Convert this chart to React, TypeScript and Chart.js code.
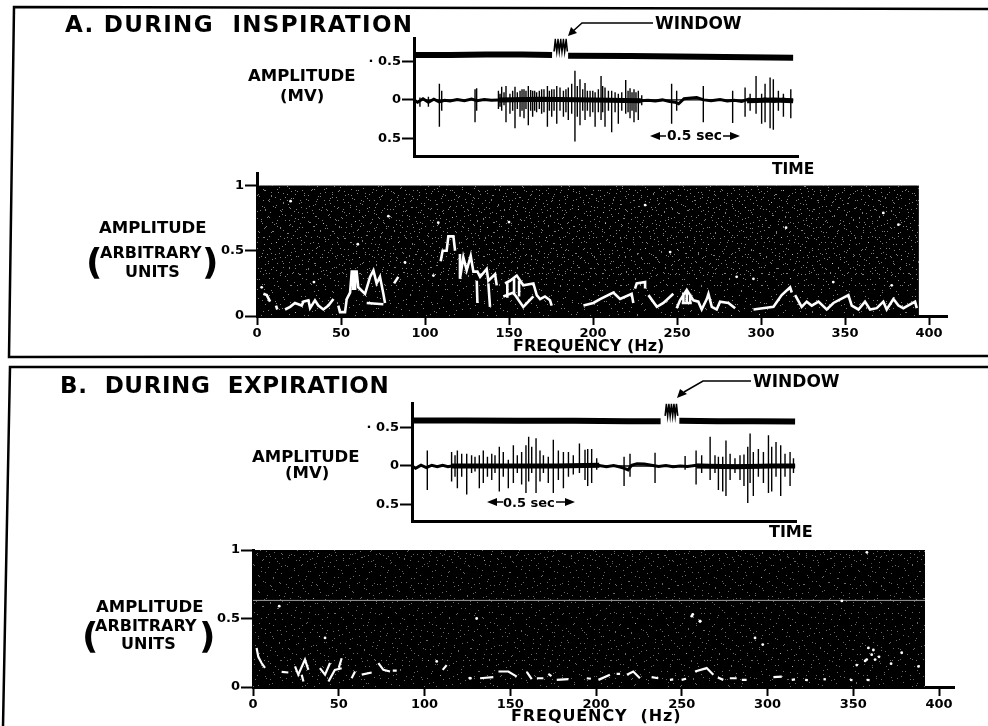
import React, { useEffect, useRef } from "react";
import { Chart, registerables } from "chart.js";
Chart.register(...registerables);

const FONT = "'DejaVu Sans', Verdana, sans-serif";

// ---------- panel A, EMG trace (time in s, amplitude in mV)
const traceYTicks = [-0.5, 0, 0.5];
const traceYLabels = ["0.5", "0", "· 0.5"];
const aMarkT = [0, 0.2, 0.4, 0.6, 0.767, null, 0.856, 1.2, 1.6, 2.106];
const aMarkV = [0.585, 0.585, 0.59, 0.59, 0.585, null, 0.575, 0.57, 0.56, 0.55];
const aWindowT = [0.778, 0.785, 0.793, 0.8, 0.807, 0.815, 0.822, 0.83, 0.837, 0.845, 0.852];
const aWindowV = [0.63, 0.78, 0.63, 0.78, 0.63, 0.78, 0.63, 0.78, 0.63, 0.78, 0.63];
const aBaseT = [0,0.02,0.05,0.08,0.11,0.14,0.17,0.2,0.24,0.28,0.32,0.35,0.39,0.43,0.47,0.6,0.8,1.0,1.26,1.3,1.34,1.38,1.42,1.45,1.47,1.5,1.54,1.57,1.61,1.65,1.7,1.74,1.78,1.82,1.86,1.9,1.95,2.0,2.05,2.106];
const aBaseV = [0,-0.03,0.015,-0.03,0.01,-0.025,-0.005,-0.015,0.005,-0.01,0.01,-0.01,0.005,-0.005,0,0,0,0,-0.01,-0.005,-0.015,0,-0.02,-0.03,-0.05,0.015,0.025,0.03,0,-0.01,0.005,-0.015,-0.005,-0.02,0.01,-0.02,0.015,-0.02,0.01,-0.015];
const aBurstT = [0.47, 0.7, 1.0, 1.26, null, 1.85, 2.0, 2.106];
const aBurstV = [0, 0.01, 0, -0.01, null, -0.01, 0, -0.01];
const aSpikeT = [0.033,0.08,0.141,0.154,0.339,0.348,0.469,0.478,0.487,0.5,0.511,0.533,0.548,0.561,0.574,0.589,0.6,0.611,0.622,0.635,0.648,0.659,0.67,0.681,0.696,0.709,0.722,0.741,0.752,0.765,0.778,0.793,0.811,0.83,0.844,0.857,0.876,0.894,0.907,0.922,0.937,0.95,0.963,0.978,0.993,1.006,1.024,1.039,1.048,1.061,1.08,1.098,1.117,1.135,1.154,1.176,1.189,1.2,1.211,1.222,1.233,1.246,1.265,1.431,1.459,1.607,1.77,1.839,1.867,1.9,1.931,1.95,1.978,1.996,2.024,2.052,2.093];
const aSpikeUp = [0.03,0.04,0.21,0.12,0.14,0.15,0.12,0.08,0.17,0.1,0.18,0.08,0.12,0.17,0.1,0.12,0.14,0.14,0.12,0.18,0.13,0.12,0.12,0.1,0.12,0.14,0.14,0.18,0.12,0.14,0.14,0.18,0.16,0.12,0.14,0.16,0.21,0.38,0.18,0.27,0.14,0.22,0.12,0.12,0.12,0.1,0.14,0.31,0.18,0.16,0.12,0.12,0.1,0.08,0.1,0.26,0.12,0.15,0.1,0.14,0.1,0.12,0.06,0.21,0.12,0.18,0.12,0.16,0.08,0.31,0.08,0.21,0.29,0.27,0.12,0.08,0.14];
const aSpikeDown = [-0.09,-0.09,-0.35,-0.14,-0.29,-0.14,-0.12,-0.09,-0.14,-0.07,-0.29,-0.18,-0.14,-0.37,-0.12,-0.22,-0.14,-0.24,-0.12,-0.33,-0.14,-0.22,-0.14,-0.16,-0.12,-0.18,-0.16,-0.35,-0.14,-0.22,-0.14,-0.31,-0.14,-0.22,-0.16,-0.26,-0.18,-0.54,-0.22,-0.33,-0.14,-0.26,-0.14,-0.22,-0.16,-0.35,-0.16,-0.26,-0.16,-0.35,-0.14,-0.42,-0.16,-0.31,-0.14,-0.18,-0.16,-0.24,-0.14,-0.29,-0.16,-0.26,-0.07,-0.31,-0.14,-0.29,-0.3,-0.22,-0.14,-0.18,-0.31,-0.29,-0.37,-0.39,-0.14,-0.22,-0.24];

// ---------- panel B, EMG trace
const bMarkT = [0, 0.3, 0.6, 0.9, 1.2, 1.381, null, 1.485, 1.7, 1.9, 2.128];
const bMarkV = [0.59, 0.59, 0.585, 0.585, 0.58, 0.58, null, 0.585, 0.58, 0.58, 0.575];
const bWindowT = [1.406, 1.413, 1.42, 1.427, 1.434, 1.441, 1.448, 1.455, 1.462, 1.469, 1.476];
const bWindowV = [0.65, 0.8, 0.65, 0.8, 0.65, 0.8, 0.65, 0.8, 0.65, 0.8, 0.65];
const bBaseT = [0,0.02,0.05,0.08,0.11,0.14,0.17,0.2,0.22,0.5,0.8,1.04,1.08,1.12,1.15,1.18,1.2,1.22,1.25,1.29,1.33,1.37,1.41,1.45,1.49,1.53,1.58,1.8,2.128];
const bBaseV = [0,-0.03,0.01,-0.02,0.01,-0.01,0.01,-0.01,0,0,0,0.005,-0.01,0.005,-0.01,-0.03,-0.05,0.01,0.03,0.025,0.01,-0.005,0.005,-0.01,0,-0.005,0.01,0,0];
const bBurstT = [0.22, 0.5, 0.8, 1.04, null, 1.58, 1.8, 2.0, 2.128];
const bBurstV = [0, 0, 0, 0.01, null, 0, -0.01, 0, 0];
const bSpikeT = [0.085,0.22,0.239,0.252,0.276,0.304,0.331,0.35,0.374,0.396,0.419,0.443,0.461,0.485,0.507,0.535,0.563,0.585,0.609,0.633,0.648,0.665,0.689,0.711,0.73,0.757,0.785,0.813,0.841,0.869,0.896,0.93,0.961,0.976,0.998,1.026,1.178,1.211,1.35,1.517,1.578,1.609,1.656,1.683,1.702,1.726,1.744,1.767,1.794,1.822,1.844,1.865,1.878,1.896,1.924,1.952,1.98,1.998,2.022,2.048,2.072,2.1,2.119];
const bSpikeUp = [0.2,0.18,0.14,0.2,0.16,0.16,0.14,0.12,0.14,0.2,0.12,0.16,0.14,0.25,0.18,0.08,0.27,0.14,0.18,0.27,0.38,0.25,0.36,0.2,0.14,0.12,0.34,0.2,0.18,0.18,0.14,0.29,0.21,0.22,0.22,0.1,0.12,0.16,0.17,0.13,0.2,0.14,0.38,0.14,0.12,0.12,0.33,0.16,0.1,0.14,0.15,0.25,0.42,0.18,0.22,0.18,0.4,0.25,0.31,0.27,0.16,0.18,0.1];
const bSpikeDown = [-0.31,-0.2,-0.14,-0.29,-0.14,-0.37,-0.09,-0.07,-0.29,-0.22,-0.14,-0.18,-0.09,-0.33,-0.14,-0.29,-0.22,-0.09,-0.24,-0.35,-0.2,-0.09,-0.35,-0.2,-0.09,-0.22,-0.35,-0.18,-0.29,-0.14,-0.11,-0.09,-0.18,-0.26,-0.22,-0.05,-0.26,-0.14,-0.22,-0.05,-0.24,-0.09,-0.18,-0.09,-0.31,-0.33,-0.39,-0.18,-0.09,-0.18,-0.26,-0.48,-0.22,-0.39,-0.14,-0.22,-0.35,-0.33,-0.14,-0.39,-0.14,-0.26,-0.09];

// ---------- spectra (frequency in Hz, amplitude in arbitrary units)
const freqTicks = [0, 50, 100, 150, 200, 250, 300, 350, 400];
const ampTicks = [0, 0.5, 1];
const aHz = [3.8,5.8,7.8,null,11.3,12.1,null,16.7,19.7,22.6,26.6,27.6,30.6,31.6,34.5,36.5,39.5,42.5,45.5,null,48.4,49.4,52.4,53.4,55.4,56.4,59.3,60.3,64.3,67.3,69.3,71.2,73.2,75.2,76.2,null,65.3,75.2,null,81.6,84.1,null,109.3,110.5,112.9,113.9,116.9,117.9,null,120.8,120.8,122.8,124.8,127.2,128.8,131.2,132.8,136.7,137.7,141.7,142.7,null,130.8,131.2,null,137.7,138.7,null,147.6,150.6,154.6,158.5,164.5,166.5,168.5,171.4,174.4,175.4,null,146.6,152.6,158.5,164.5,null,194.3,200.2,204.2,212.1,216.1,223,224,null,225,226,231,231,null,233,238,241.9,247.8,null,249.8,251.8,255.8,259.8,262.7,264.7,267.7,268.7,270.7,273.6,275.6,280.6,284.6,null,295.5,307.4,312.3,317.3,318.3,null,320.3,324.2,327.2,330.2,334.2,339.1,343.1,352,354,358,361.9,364.9,368.9,372.8,374.8,378.8,381.8,384.7,391.7,392.7,null,252.8,258.8,null,57.3,57.3,null,58.4,58.4,null,253.8,253.8,null,255.8,255.8,null,257.8,257.8,null,149,149,null,153,153,null,156,156];
const aAmp = [0.17,0.16,0.11,null,0.08,0.05,null,0.05,0.07,0.1,0.08,0.11,0.12,0.06,0.12,0.08,0.05,0.08,0.13,null,0.08,0.03,0.03,0.13,0.18,0.34,0.34,0.22,0.17,0.3,0.35,0.25,0.3,0.17,0.1,null,0.1,0.09,null,0.25,0.3,null,0.42,0.5,0.5,0.61,0.61,0.5,null,0.475,0.285,0.45,0.35,0.46,0.34,0.34,0.3,0.36,0.27,0.32,0.235,null,0.27,0.1,null,0.25,0.07,null,0.25,0.27,0.31,0.235,0.25,0.16,0.13,0.15,0.12,0.08,null,0.15,0.18,0.07,0.15,null,0.08,0.1,0.13,0.18,0.13,0.17,0.1,null,0.21,0.25,0.26,0.21,null,0.16,0.07,0.1,0.17,null,0.06,0.12,0.2,0.12,0.11,0.05,0.13,0.17,0.07,0.05,0.11,0.1,0.06,null,0.05,0.07,0.16,0.22,0.18,null,0.16,0.07,0.11,0.08,0.11,0.05,0.1,0.16,0.08,0.05,0.11,0.05,0.06,0.11,0.05,0.13,0.08,0.06,0.11,0.06,null,0.1,0.1,null,0.33,0.2,null,0.33,0.2,null,0.18,0.09,null,0.2,0.09,null,0.17,0.09,null,0.26,0.14,null,0.3,0.16,null,0.27,0.15];
const aSpotHz = [78.2,107.9,88.1,105,33.9,2.8,314.9,372.8,381.8,245.9,295.5,285.5,377.8,343,231,150,60,20];
const aSpotAmp = [0.765,0.715,0.41,0.31,0.26,0.22,0.677,0.79,0.7,0.49,0.285,0.3,0.235,0.26,0.85,0.72,0.55,0.88];
const bHz = [2.1,3.1,5,7,null,16.7,20.6,null,24.5,26.4,30.3,32.3,null,28.4,29.4,null,39,42,44.9,null,44,47.7,51.7,null,50,51.7,null,57.5,59.5,null,63.4,69.2,null,73.1,76,79.9,null,81.5,83.8,null,110.6,112.9,null,126.5,127.5,null,132.4,140.1,null,143.1,148.9,153.8,null,159.6,162.5,null,165.5,169.3,null,172.2,174,null,177.1,183.9,null,194.6,197,null,201.4,208.1,null,212,214,null,218,221.7,225.6,null,232.4,236.3,null,243.1,245,null,249.9,252.5,null,257.7,264.5,268.4,null,271,274.2,null,278,282,null,285,287.8,null,303.4,308.3,null,314.1,316,null,321.9,323.5,null,332.6,334,null,348.1,349.5,null,357.8,359.5];
const bAmp = [0.285,0.22,0.175,0.14,null,0.11,0.106,null,0.15,0.09,0.2,0.125,null,0.09,0.04,null,0.138,0.09,0.175,null,0.04,0.125,0.137,null,0.14,0.21,null,0.064,0.113,null,0.09,0.106,null,0.175,0.125,0.113,null,0.12,0.12,null,0.125,0.16,null,0.064,0.064,null,0.064,0.072,null,0.113,0.113,0.076,null,0.11,0.057,null,0.064,0.064,null,0.096,0.08,null,0.052,0.057,null,0.064,0.06,null,0.052,0.089,null,0.096,0.096,null,0.09,0.113,0.064,null,0.072,0.064,null,0.052,0.055,null,0.052,0.06,null,0.113,0.138,0.089,null,0.07,0.052,null,0.064,0.064,null,0.052,0.052,null,0.072,0.076,null,0.052,0.056,null,0.052,0.05,null,0.057,0.055,null,0.052,0.05,null,0.052,0.05];
const bSpotHz = [107.1,126.5,256.4,260.6,292.7,297.2,358.8,361.7,360.7,357.8,362.7,378.2,388,357.9,343.3,255.8,260.7,130.4,15.3,42,356.9,365,352,372];
const bSpotAmp = [0.187,0.064,0.53,0.48,0.358,0.31,0.285,0.27,0.236,0.2,0.2,0.25,0.15,0.983,0.628,0.517,0.48,0.5,0.59,0.358,0.19,0.22,0.16,0.17];
const bStreakHz = [0, 391.8];
const bStreakAmp = [0.632, 0.632];

// ---------- hand-placed speckle tiles for the dark film background
const tileWide: [number, number][] = [[3,2],[11,5],[19,1],[27,7],[36,3],[44,9],[53,4],[58,11],[6,13],[15,16],[23,12],[31,18],[40,14],[49,17],[56,21],[2,24],[10,27],[18,22],[26,29],[34,25],[43,28],[51,24],[59,31],[7,35],[14,32],[22,37],[30,33],[38,38],[47,35],[54,39],[4,44],[12,41],[20,46],[28,42],[37,47],[45,43],[52,48],[60,45],[8,52],[16,55],[24,50],[33,56],[41,52],[49,57],[57,53],[1,58],[13,59],[29,59],[39,58],[55,59]];
const tileMid: [number, number][] = [[1,6],[8,1],[14,9],[21,4],[29,11],[35,2],[42,8],[5,15],[12,20],[19,14],[26,19],[33,16],[40,21],[45,14],[3,26],[10,30],[17,25],[24,31],[31,27],[38,32],[44,26],[7,37],[15,41],[22,36],[28,42],[36,38],[43,43],[2,44],[18,45],[33,45]];
const tileDense: [number, number][] = [[2,3],[8,7],[14,2],[20,9],[27,5],[33,10],[5,14],[11,18],[17,13],[24,17],[30,15],[35,20],[3,24],[9,28],[15,23],[21,29],[28,25],[34,30],[6,34],[13,35],[19,33],[26,35],[32,34]];

const xy = (t: (number | null)[], v: (number | null)[]) => t.map((x, i) => ({ x, y: v[i] }));
const spikes = (t: number[], up: number[], dn: number[]) =>
  t.flatMap((x, i) => [{ x, y: 0 }, { x, y: up[i] }, { x, y: dn[i] }, { x, y: 0 }]);

function tile(size: number, dots: [number, number][], color: string) {
  const c = document.createElement("canvas");
  c.width = size;
  c.height = size;
  const g = c.getContext("2d")!;
  g.fillStyle = color;
  dots.forEach(([x, y]) => g.fillRect(x, y, 1, 1));
  return g.createPattern(c, "repeat")!;
}

const tickFont = { family: FONT, weight: "bold" as const, size: 13 };
const noLabels = { legend: { display: false }, tooltip: { enabled: false } };

function traceChart(cv: HTMLCanvasElement, o: any) {
  const line = (data: any, width: number, order: number) => ({
    data, borderColor: "#000", borderWidth: width, pointRadius: 0, tension: 0, spanGaps: false, order, fill: false,
  });
  return new Chart(cv, {
    type: "line",
    data: {
      datasets: [
        line(xy(o.markT, o.markV), 6, 1),
        line(xy(o.windowT, o.windowV), 1.6, 1),
        line(xy(o.baseT, o.baseV), 3, 2),
        line(xy(o.burstT, o.burstV), 5, 2),
        line(spikes(o.spikeT, o.spikeUp, o.spikeDown), 1.4, 3),
      ],
    },
    options: {
      animation: false, responsive: false, events: [],
      layout: { padding: { top: 7, right: 7, left: 0, bottom: 0 } },
      plugins: noLabels,
      scales: {
        x: {
          type: "linear", min: 0, max: 2.133,
          ticks: { display: false },
          grid: { display: false },
          border: { color: "#000", width: 3 },
          afterFit: (s: any) => { s.height = 9; },
        },
        y: {
          type: "linear", min: o.yMin, max: o.yMax,
          afterBuildTicks: (s: any) => { s.ticks = traceYTicks.map((value) => ({ value })); },
          ticks: {
            autoSkip: false, color: "#000", font: tickFont, padding: 1,
            callback: (v: any) => traceYLabels[traceYTicks.indexOf(v)],
          },
          grid: { drawOnChartArea: false, drawTicks: true, tickLength: 12, tickWidth: 2, tickColor: "#000" },
          border: { color: "#000", width: 3 },
          afterFit: (s: any) => { s.width = 54; },
        },
      },
    } as any,
  });
}

function spectrumChart(cv: HTMLCanvasElement, o: any) {
  const area = (hz: number, data: any, color: any, fill: any, order: number) => ({
    data: [{ x: 0, y: data }, { x: hz, y: data }],
    borderWidth: 0, borderColor: "transparent", pointRadius: 0, backgroundColor: color, fill, order,
  });
  const datasets: any[] = [
    area(o.edge, 1, "#000", "origin", 9),
    area(o.edge, 1, tile(61, tileWide, o.speck), "origin", 8),
    area(o.edge, 1, tile(47, tileMid, o.speck), "origin", 7),
    area(o.edge, 1, tile(37, tileDense, o.speck), { value: o.denseFrom }, 6),
    {
      data: xy(o.hz, o.amp), borderColor: "#fff", borderWidth: o.lw, pointRadius: 0, tension: 0,
      spanGaps: false, fill: false, order: 2, borderJoinStyle: "miter",
    },
    {
      data: xy(o.spotHz, o.spotAmp), showLine: false, pointRadius: 1.4, pointBorderWidth: 0,
      pointBackgroundColor: "#fff", fill: false, order: 1,
    },
  ];
  if (o.streakHz) {
    datasets.push({
      data: xy(o.streakHz, o.streakAmp), borderColor: "#9a9a9a", borderWidth: 1, pointRadius: 0, fill: false, order: 3,
    });
  }
  return new Chart(cv, {
    type: "line",
    data: { datasets },
    options: {
      animation: false, responsive: false, events: [],
      layout: { padding: { top: o.padTop, right: o.padRight, left: 0, bottom: 0 } },
      plugins: noLabels,
      scales: {
        x: {
          type: "linear", min: 0, max: o.xMax,
          afterBuildTicks: (s: any) => { s.ticks = freqTicks.map((value) => ({ value })); },
          ticks: { autoSkip: false, maxRotation: 0, color: "#000", font: tickFont, padding: 1 },
          grid: { drawOnChartArea: false, drawTicks: true, tickLength: 9, tickWidth: 2, tickColor: "#000" },
          border: { color: "#000", width: 3 },
          afterFit: (s: any) => { s.height = o.xHeight; },
        },
        y: {
          type: "linear", min: 0, max: o.yMax,
          afterBuildTicks: (s: any) => { s.ticks = ampTicks.map((value) => ({ value })); },
          ticks: { autoSkip: false, color: "#000", font: tickFont, padding: 1, callback: (v: any) => String(v) },
          grid: { drawOnChartArea: false, drawTicks: true, tickLength: 12, tickWidth: 2, tickColor: "#000" },
          border: { color: "#000", width: 3 },
          afterFit: (s: any) => { s.width = o.yWidth; },
        },
      },
    } as any,
  });
}

function Label(p: { x: number; y: number; size: number; ls?: number; children: string }) {
  return (
    <div
      style={{
        position: "absolute", left: p.x, top: p.y, transform: "translateY(-50%)", fontFamily: FONT,
        fontWeight: 700, fontSize: p.size, letterSpacing: p.ls ?? 0, lineHeight: 1, whiteSpace: "pre", color: "#000",
      }}
    >
      {p.children}
    </div>
  );
}

const canvasStyle = (left: number, top: number): React.CSSProperties => ({ position: "absolute", left, top, display: "block" });

export default function App() {
  const a1 = useRef<HTMLCanvasElement>(null);
  const a2 = useRef<HTMLCanvasElement>(null);
  const b1 = useRef<HTMLCanvasElement>(null);
  const b2 = useRef<HTMLCanvasElement>(null);

  useEffect(() => {
    const charts = [
      traceChart(a1.current!, {
        markT: aMarkT, markV: aMarkV, windowT: aWindowT, windowV: aWindowV, baseT: aBaseT, baseV: aBaseV,
        burstT: aBurstT, burstV: aBurstV, spikeT: aSpikeT, spikeUp: aSpikeUp, spikeDown: aSpikeDown,
        yMin: -0.73, yMax: 0.795,
      }),
      traceChart(b1.current!, {
        markT: bMarkT, markV: bMarkV, windowT: bWindowT, windowV: bWindowV, baseT: bBaseT, baseV: bBaseV,
        burstT: bBurstT, burstV: bBurstV, spikeT: bSpikeT, spikeUp: bSpikeUp, spikeDown: bSpikeDown,
        yMin: -0.713, yMax: 0.806,
      }),
      spectrumChart(a2.current!, {
        hz: aHz, amp: aAmp, spotHz: aSpotHz, spotAmp: aSpotAmp, edge: 394, xMax: 410.7, yMax: 1.09,
        padTop: 7, padRight: 13, xHeight: 34, yWidth: 57, lw: 2.6, speck: "rgba(255,255,255,0.5)", denseFrom: 0.3,
      }),
      spectrumChart(b2.current!, {
        hz: bHz, amp: bAmp, spotHz: bSpotHz, spotAmp: bSpotAmp, streakHz: bStreakHz, streakAmp: bStreakAmp,
        edge: 391.8, xMax: 408.7, yMax: 1, padTop: 10, padRight: 16, xHeight: 39, yWidth: 63, lw: 2.2,
        speck: "rgba(255,255,255,0.42)", denseFrom: 0.9,
      }),
    ];
    return () => charts.forEach((c) => c.destroy());
  }, []);

  return (
    <div style={{ position: "fixed", inset: 0, overflow: "hidden", background: "#fff" }}>
      <canvas ref={a1} width={445} height={135} style={canvasStyle(360, 30)} />
      <canvas ref={a2} width={760} height={185} style={canvasStyle(200, 165)} />
      <canvas ref={b1} width={445} height={135} style={canvasStyle(358, 395)} />
      <canvas ref={b2} width={780} height={186} style={canvasStyle(190, 540)} />

      <svg width={988} height={726} style={{ position: "absolute", left: 0, top: 0, pointerEvents: "none" }}>
        <g stroke="#000" strokeWidth={2.5} fill="none">
          <polyline points="988,9 14,7 9,357 988,356" />
          <polyline points="988,367 10,367 3,726" />
        </g>
        <g stroke="#000" strokeWidth={1.5} fill="none">
          <polyline points="653,23 582,23 572,32" />
          <polyline points="751,381 703,381 684,392" />
          <line x1={658} y1={136} x2={666} y2={136} />
          <line x1={723} y1={136} x2={732} y2={136} />
          <line x1={495} y1={502} x2={503} y2={502} />
          <line x1={556} y1={502} x2={567} y2={502} />
        </g>
        <g fill="#000">
          <polygon points="568,36 571,27 577,33" />
          <polygon points="677,398 680,389 687,394" />
          <polygon points="650,136 660,132 660,140" />
          <polygon points="740,136 730,132 730,140" />
          <polygon points="487,502 497,498 497,506" />
          <polygon points="575,502 565,498 565,506" />
        </g>
      </svg>

      <Label x={65} y={24} size={23} ls={1.3}>{"A. DURING  INSPIRATION"}</Label>
      <Label x={60} y={385} size={23} ls={0.6}>{"B.  DURING  EXPIRATION"}</Label>

      <Label x={655} y={23} size={17}>WINDOW</Label>
      <Label x={753} y={381} size={17}>WINDOW</Label>
      <Label x={772} y={170} size={15.5}>TIME</Label>
      <Label x={769} y={532} size={16}>TIME</Label>
      <Label x={667} y={136} size={13.8}>0.5 sec</Label>
      <Label x={503} y={502} size={13}>0.5 sec</Label>

      <Label x={248} y={76} size={16.5}>AMPLITUDE</Label>
      <Label x={280} y={96} size={16.5}>(MV)</Label>
      <Label x={252} y={457} size={16.5}>AMPLITUDE</Label>
      <Label x={285} y={473} size={16.5}>(MV)</Label>

      <Label x={99} y={228} size={16.5}>AMPLITUDE</Label>
      <Label x={100} y={253} size={16}>ARBITRARY</Label>
      <Label x={125} y={272} size={16}>UNITS</Label>
      <Label x={86} y={262} size={36}>(</Label>
      <Label x={202} y={262} size={36}>)</Label>

      <Label x={96} y={607} size={16.5}>AMPLITUDE</Label>
      <Label x={95} y={626} size={16}>ARBITRARY</Label>
      <Label x={121} y={644} size={16}>UNITS</Label>
      <Label x={82} y={636} size={36}>(</Label>
      <Label x={199} y={636} size={36}>)</Label>

      <Label x={513} y={346} size={16}>FREQUENCY (Hz)</Label>
      <Label x={511} y={716} size={16} ls={0.9}>{"FREQUENCY  (Hz)"}</Label>
    </div>
  );
}
